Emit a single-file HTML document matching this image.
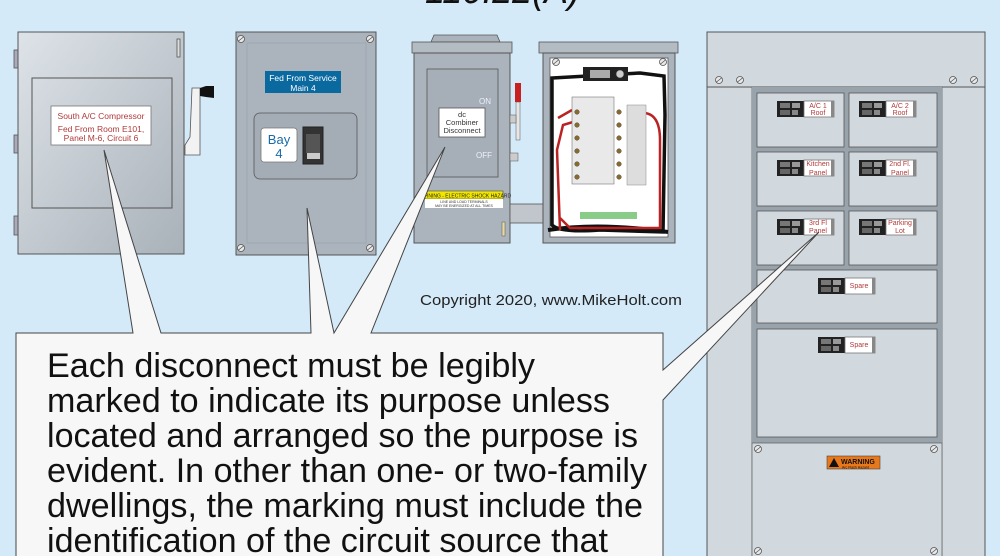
<!DOCTYPE html>
<html><head><meta charset="utf-8"><style>
html,body{margin:0;padding:0;background:#d5eaf9;}
svg{display:block;}
text{font-family:"Liberation Sans",Arial,sans-serif;}
</style></head><body>
<svg width="1000" height="556" viewBox="0 0 1000 556" xmlns="http://www.w3.org/2000/svg">
<defs>
<linearGradient id="g1" x1="0" y1="0" x2="1" y2="1"><stop offset="0" stop-color="#dde3e8"/><stop offset="1" stop-color="#a9b1b9"/></linearGradient>
<g id="scr"><circle r="3.5" fill="#e8e8e8" stroke="#555" stroke-width="0.8"/><line x1="-2.5" y1="2" x2="2.5" y2="-2" stroke="#555" stroke-width="0.8"/></g>
<g id="brk"><rect x="0" y="0" width="27" height="16" fill="#222"/><rect x="3" y="2" width="10" height="5" fill="#777"/><rect x="15" y="2" width="8" height="5" fill="#999"/><rect x="3" y="9" width="10" height="5" fill="#666"/><rect x="15" y="9" width="6" height="5" fill="#888"/><rect x="27" y="0" width="30" height="16" fill="#fff" stroke="#777" stroke-width="0.8"/><rect x="54" y="0" width="3" height="16" fill="#888"/></g>
</defs>
<rect width="1000" height="556" fill="#d5eaf9"/>
<text x="425" y="3" font-size="38" font-style="italic" fill="#111" textLength="155" lengthAdjust="spacingAndGlyphs">110.22(A)</text>

<!-- Left disconnect -->
<rect x="14" y="50" width="5" height="18" fill="#aab" stroke="#555" stroke-width="0.8"/>
<rect x="14" y="135" width="5" height="18" fill="#aab" stroke="#555" stroke-width="0.8"/>
<rect x="14" y="216" width="5" height="19" fill="#aab" stroke="#555" stroke-width="0.8"/>
<rect x="18" y="32" width="166" height="222" fill="url(#g1)" stroke="#555" stroke-width="1"/>
<rect x="177" y="39" width="3" height="18" fill="#ddd" stroke="#555" stroke-width="0.8"/>
<rect x="32" y="78" width="140" height="130" fill="none" stroke="#555" stroke-width="1"/>
<rect x="51" y="106" width="100" height="39" fill="#fff" stroke="#777" stroke-width="0.8"/>
<text x="101" y="119" font-size="8.5" fill="#b03a3a" text-anchor="middle">South A/C Compressor</text>
<text x="101" y="132" font-size="8.5" fill="#b03a3a" text-anchor="middle">Fed From Room E101,</text>
<text x="101" y="141" font-size="8.5" fill="#b03a3a" text-anchor="middle">Panel M-6, Circuit 6</text>
<path d="M192 88 L200 88 L200 155 L185 155 L185 145 L190 137 Z" fill="#f2f2f2" stroke="#555" stroke-width="0.8"/>
<path d="M200 88 L206 86 L214 86 L214 98 L206 97 L200 96 Z" fill="#111"/>

<!-- Second -->
<rect x="236" y="32" width="140" height="223" fill="#abb4bc" stroke="#555" stroke-width="1"/>
<rect x="247" y="43" width="119" height="200" fill="none" stroke="#9aa7b2" stroke-width="0.8"/>
<use href="#scr" x="241" y="39"/><use href="#scr" x="370" y="39"/><use href="#scr" x="241" y="248"/><use href="#scr" x="370" y="248"/>
<rect x="265" y="71" width="76" height="22" fill="#0a6aa0"/>
<text x="303" y="81" font-size="8.5" fill="#fff" text-anchor="middle">Fed From Service</text>
<text x="303" y="91" font-size="8.5" fill="#fff" text-anchor="middle">Main 4</text>
<rect x="254" y="113" width="103" height="66" rx="6" fill="#a4adb6" stroke="#555" stroke-width="0.8"/>
<rect x="261" y="128" width="36" height="34" rx="3" fill="#fff" stroke="#777" stroke-width="0.8"/>
<text x="279" y="144" font-size="13" fill="#1a6aa8" text-anchor="middle">Bay</text>
<text x="279" y="158" font-size="13" fill="#1a6aa8" text-anchor="middle">4</text>
<rect x="303" y="127" width="20" height="37" fill="#333" stroke="#222"/>
<rect x="306" y="134" width="14" height="19" fill="#555"/>
<rect x="307" y="153" width="13" height="6" fill="#ccc"/>

<!-- dc disconnect -->
<path d="M431 42 L434 35 L497 35 L500 42 Z" fill="#aab3bb" stroke="#555" stroke-width="0.8"/>
<rect x="412" y="42" width="100" height="11" fill="#b3bbc3" stroke="#555" stroke-width="0.8"/>
<rect x="414" y="53" width="96" height="190" fill="#abb4bc" stroke="#555" stroke-width="1"/>
<rect x="427" y="69" width="71" height="108" fill="#a6afb8" stroke="#555" stroke-width="0.8"/>
<rect x="439" y="108" width="46" height="29" fill="#fff" stroke="#555" stroke-width="0.8"/>
<text x="462" y="117" font-size="7.5" fill="#333" text-anchor="middle">dc</text>
<text x="462" y="125" font-size="7.5" fill="#333" text-anchor="middle">Combiner</text>
<text x="462" y="133" font-size="7.5" fill="#333" text-anchor="middle">Disconnect</text>
<text x="479" y="104" font-size="8" fill="#eef">ON</text>
<text x="476" y="158" font-size="8" fill="#eef">OFF</text>
<rect x="425" y="191" width="78" height="8" fill="#f2e600" stroke="#333" stroke-width="0.5"/>
<text x="464" y="197.5" font-size="5" fill="#222" text-anchor="middle">WARNING - ELECTRIC SHOCK HAZARD</text>
<rect x="425" y="199" width="78" height="9" fill="#fff"/>
<text x="464" y="203" font-size="3.5" fill="#333" text-anchor="middle">LINE AND LOAD TERMINALS</text>
<text x="464" y="207" font-size="3.5" fill="#333" text-anchor="middle">MAY BE ENERGIZED AT ALL TIMES</text>
<rect x="502" y="222" width="3" height="14" fill="#e8d9a0" stroke="#555" stroke-width="0.5"/>
<rect x="515" y="83" width="6" height="19" fill="#c82020"/>
<rect x="516" y="102" width="4" height="38" fill="#e6e6e6" stroke="#555" stroke-width="0.5"/>
<rect x="510" y="115" width="6" height="8" fill="#ccc" stroke="#555" stroke-width="0.5"/>
<rect x="510" y="153" width="8" height="8" fill="#ccc" stroke="#555" stroke-width="0.5"/>
<rect x="510" y="204" width="33" height="19" fill="#c0c6cc" stroke="#555" stroke-width="0.8"/>

<!-- open combiner -->
<rect x="539" y="42" width="139" height="11" fill="#b3bbc3" stroke="#555" stroke-width="0.8"/>
<rect x="543" y="53" width="132" height="190" fill="#abb4bc" stroke="#555" stroke-width="1"/>
<rect x="550" y="58" width="118" height="179" fill="#fff" stroke="#555" stroke-width="0.8"/>
<use href="#scr" x="556" y="62"/><use href="#scr" x="663" y="62"/>
<path d="M552 78 L552 225 Q560 233 600 230 L663 232 L665 115 L664 76 L640 73 Z" fill="none" stroke="#111" stroke-width="3.5"/>
<path d="M548 230 Q600 222 668 232" fill="none" stroke="#111" stroke-width="4"/>
<path d="M558 118 L572 110 M560 230 L557 150 L563 125 L573 122" fill="none" stroke="#b22" stroke-width="2.5"/>
<path d="M645 113 Q660 115 660 140 L660 228 L570 228 L560 218" fill="none" stroke="#b22" stroke-width="2.5"/>
<rect x="583" y="67" width="45" height="14" fill="#222"/>
<rect x="590" y="70" width="20" height="8" fill="#aaa"/>
<circle cx="620" cy="74" r="4" fill="#ccc" stroke="#333" stroke-width="0.6"/>
<rect x="572" y="97" width="42" height="87" fill="#e9e9e9" stroke="#777" stroke-width="0.6"/>
<g fill="#8a6a2a" stroke="#333" stroke-width="0.4">
<circle cx="577" cy="112" r="2.3"/><circle cx="577" cy="125" r="2.3"/><circle cx="577" cy="138" r="2.3"/><circle cx="577" cy="151" r="2.3"/><circle cx="577" cy="164" r="2.3"/><circle cx="577" cy="177" r="2.3"/>
<circle cx="619" cy="112" r="2.3"/><circle cx="619" cy="125" r="2.3"/><circle cx="619" cy="138" r="2.3"/><circle cx="619" cy="151" r="2.3"/><circle cx="619" cy="164" r="2.3"/><circle cx="619" cy="177" r="2.3"/>
</g>
<rect x="627" y="105" width="19" height="80" fill="#ddd" stroke="#888" stroke-width="0.5"/>
<rect x="580" y="212" width="57" height="7" fill="#8c8"/>

<!-- right panel -->
<rect x="707" y="32" width="278" height="540" fill="#d2d9de" stroke="#555" stroke-width="1"/>
<line x1="707" y1="87" x2="985" y2="87" stroke="#555" stroke-width="1"/>
<line x1="752" y1="87" x2="752" y2="556" stroke="#666" stroke-width="0.8"/>
<line x1="942" y1="87" x2="942" y2="556" stroke="#666" stroke-width="0.8"/>
<use href="#scr" x="719" y="80"/><use href="#scr" x="740" y="80"/><use href="#scr" x="953" y="80"/><use href="#scr" x="974" y="80"/>
<rect x="752" y="87" width="190" height="356" fill="#99a3ab"/>
<g fill="#d2d9de" stroke="#555" stroke-width="0.8">
<rect x="757" y="93" width="87" height="54"/><rect x="849" y="93" width="88" height="54"/>
<rect x="757" y="152" width="87" height="54"/><rect x="849" y="152" width="88" height="54"/>
<rect x="757" y="211" width="87" height="54"/><rect x="849" y="211" width="88" height="54"/>
<rect x="757" y="270" width="180" height="53"/><rect x="757" y="329" width="180" height="108"/>
</g>
<rect x="752" y="443" width="190" height="120" fill="#d2d9de" stroke="#666" stroke-width="0.8"/>
<use href="#scr" x="758" y="449"/><use href="#scr" x="934" y="449"/><use href="#scr" x="758" y="551"/><use href="#scr" x="934" y="551"/>
<use href="#brk" x="777" y="101"/><use href="#brk" x="859" y="101"/>
<use href="#brk" x="777" y="160"/><use href="#brk" x="859" y="160"/>
<use href="#brk" x="777" y="219"/><use href="#brk" x="859" y="219"/>
<use href="#brk" x="818" y="278"/><use href="#brk" x="818" y="337"/>
<g font-size="7" fill="#b03a3a" text-anchor="middle">
<text x="818" y="108">A/C 1</text><text x="818" y="115">Roof</text>
<text x="900" y="108">A/C 2</text><text x="900" y="115">Roof</text>
<text x="818" y="166">Kitchen</text><text x="818" y="175">Panel</text>
<text x="900" y="166">2nd Fl.</text><text x="900" y="175">Panel</text>
<text x="818" y="225">3rd Fl</text><text x="818" y="233">Panel</text>
<text x="900" y="225">Parking</text><text x="900" y="233">Lot</text>
<text x="859" y="288">Spare</text><text x="859" y="347">Spare</text>
</g>
<rect x="827" y="456" width="53" height="13" fill="#e8781a" stroke="#444" stroke-width="0.6"/>
<path d="M829 467 L834 458 L839 467 Z" fill="#111"/>
<text x="841" y="464" font-size="7" font-weight="bold" fill="#111">WARNING</text>
<text x="842" y="468.5" font-size="3.5" fill="#111">Arc Flash Hazard</text>

<!-- callout -->
<path d="M16 333 L133 333 L104 150 L161 333 L311 333 L307 208 L334 333 L445 147 L371 333 L663 333 L663 370 L819 232 L663 400 L663 570 L16 570 Z" fill="#f7f7f7" stroke="#444" stroke-width="1"/>
<g font-size="34" fill="#111">
<text x="47" y="377" textLength="488" lengthAdjust="spacingAndGlyphs">Each disconnect must be legibly</text>
<text x="47" y="412" textLength="563" lengthAdjust="spacingAndGlyphs">marked to indicate its purpose unless</text>
<text x="47" y="447" textLength="591" lengthAdjust="spacingAndGlyphs">located and arranged so the purpose is</text>
<text x="47" y="482" textLength="600" lengthAdjust="spacingAndGlyphs">evident. In other than one- or two-family</text>
<text x="47" y="517" textLength="596" lengthAdjust="spacingAndGlyphs">dwellings, the marking must include the</text>
<text x="47" y="552" textLength="561" lengthAdjust="spacingAndGlyphs">identification of the circuit source that</text>
</g>
<text x="420" y="305" font-size="15" fill="#222" textLength="262" lengthAdjust="spacingAndGlyphs">Copyright 2020, www.MikeHolt.com</text>
</svg>
</body></html>
